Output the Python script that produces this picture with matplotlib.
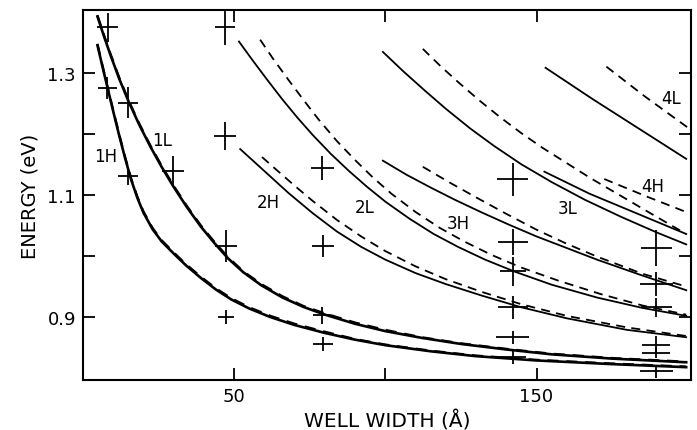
import matplotlib
matplotlib.use("Agg")
import matplotlib.pyplot as plt

# well width (angstrom) and energy (eV)
h1_w = [4.8, 6.5, 8.1, 10, 12, 14, 16, 18, 20, 23, 26, 30, 34, 39, 44, 49, 55, 62,
        70, 80, 90, 100, 115, 130, 150, 175, 199.5]
h1_e = [1.345, 1.309, 1.276, 1.237, 1.197, 1.159, 1.124, 1.095, 1.071, 1.044, 1.024,
        1.004, 0.985, 0.964, 0.945, 0.929, 0.914, 0.900, 0.887, 0.874, 0.863, 0.854,
        0.844, 0.836, 0.829, 0.823, 0.818]
h1_e_d = [1.347, 1.311, 1.278, 1.239, 1.199, 1.161, 1.126, 1.097, 1.073, 1.046, 1.026,
          1.006, 0.987, 0.966, 0.947, 0.931, 0.916, 0.902, 0.889, 0.876, 0.864, 0.855,
          0.845, 0.837, 0.830, 0.824, 0.819]

l1_w = [4.8, 7, 9.1, 12, 15, 18.5, 22.3, 26, 30, 34.5, 39, 43.5, 48, 53, 59, 66, 73,
        80, 90, 100, 112, 125, 140, 155, 175, 199.5]
l1_e = [1.392, 1.359, 1.329, 1.290, 1.254, 1.216, 1.179, 1.146, 1.113, 1.079, 1.048,
        1.021, 0.996, 0.9735, 0.952, 0.932, 0.9165, 0.904, 0.889, 0.877, 0.866, 0.856,
        0.847, 0.839, 0.832, 0.826]
l1_e_d = [1.394, 1.361, 1.331, 1.292, 1.256, 1.218, 1.181, 1.148, 1.115, 1.081, 1.050,
          1.023, 0.998, 0.975, 0.954, 0.934, 0.918, 0.906, 0.891, 0.879, 0.867, 0.857,
          0.848, 0.840, 0.833, 0.827]

h2_w = [52, 60, 68, 76, 84, 92, 100, 110, 120, 132, 145, 160, 180, 199.5]
h2_e = [1.175, 1.139, 1.103, 1.070, 1.040, 1.015, 0.994, 0.972, 0.954, 0.935, 0.916,
        0.898, 0.879, 0.867]
h2_w_d = [59.2, 64, 70, 76, 84, 92, 100, 110, 120, 132, 145, 160, 180, 199.5]
h2_e_d = [1.162, 1.141, 1.115, 1.090, 1.059, 1.032, 1.008, 0.983, 0.962, 0.941, 0.921,
          0.902, 0.883, 0.869]

l2_w = [51.6, 56, 61, 66, 71, 76, 82, 88, 94, 100, 108, 116, 124, 133, 143, 155, 170,
        185, 199.5]
l2_e = [1.351, 1.321, 1.288, 1.256, 1.226, 1.198, 1.167, 1.139, 1.113, 1.089, 1.061,
        1.036, 1.015, 0.994, 0.974, 0.953, 0.932, 0.915, 0.902]
l2_w_d = [58.6, 63, 68, 73, 78, 84, 90, 96, 102, 110, 118, 126, 135, 145, 157, 171,
          185, 199.5]
l2_e_d = [1.354, 1.322, 1.288, 1.255, 1.223, 1.188, 1.157, 1.128, 1.102, 1.072, 1.046,
          1.024, 1.002, 0.981, 0.960, 0.938, 0.919, 0.904]

h3_w = [99.2, 107, 115, 123, 132, 141, 150, 160, 170, 185, 199.5]
h3_e = [1.156, 1.133, 1.112, 1.092, 1.071, 1.051, 1.032, 1.013, 0.994, 0.968, 0.944]
h3_w_d = [112.4, 121, 130, 140, 150, 160, 170, 185, 199.5]
h3_e_d = [1.146, 1.121, 1.096, 1.069, 1.043, 1.020, 0.999, 0.971, 0.950]

l3_w = [99.2, 106, 113, 120, 128, 136, 145, 155, 166, 178, 190, 199.5]
l3_e = [1.334, 1.302, 1.271, 1.241, 1.209, 1.180, 1.150, 1.121, 1.092, 1.064, 1.038, 1.019]
l3_w_d = [112.4, 118, 124, 131, 138, 145, 152, 160, 168, 177, 188, 199.5]
l3_e_d = [1.339, 1.312, 1.285, 1.255, 1.227, 1.201, 1.177, 1.152, 1.127, 1.101, 1.069, 1.036]

h4_w = [152.6, 167.5, 183.0, 199.5]
h4_e = [1.138, 1.102, 1.070, 1.036]
h4_w_d = [172.4, 186.6, 200.5]
h4_e_d = [1.126, 1.097, 1.070]

l4_w = [153.0, 168.5, 184.0, 199.5]
l4_e = [1.308, 1.257, 1.208, 1.159]
l4_w_d = [173.1, 185.6, 199.8]
l4_e_d = [1.310, 1.262, 1.211]

# measured points with error bars
pt_w = [8.2, 8.1, 15.0, 15.0, 29.9, 47.0, 47.0, 47.3, 47.3,
        79.1, 79.4, 79.1, 79.4,
        142.1, 142.1, 142.1, 142.1, 142.1, 142.1,
        189.6, 189.6, 189.6, 189.6, 189.6, 189.6]
pt_e = [1.374, 1.275, 1.251, 1.131, 1.139, 1.374, 1.197, 1.016, 0.900,
        1.144, 1.016, 0.903, 0.856,
        1.126, 1.023, 0.975, 0.916, 0.867, 0.834,
        1.013, 0.954, 0.916, 0.854, 0.841, 0.811]
pt_werr = [3.5, 3.0, 3.3, 3.3, 3.6, 3.3, 3.6, 3.6, 2.8,
           3.8, 3.6, 3.0, 3.3,
           5.2, 5.0, 4.3, 5.0, 5.4, 4.3,
           5.2, 5.5, 5.2, 4.7, 4.7, 5.5]
pt_eerr = [0.023, 0.018, 0.025, 0.014, 0.025, 0.029, 0.023, 0.026, 0.011,
           0.019, 0.018, 0.014, 0.011,
           0.027, 0.021, 0.024, 0.019, 0.011, 0.011,
           0.029, 0.020, 0.016, 0.015, 0.008, 0.011]

labels = ["1H", "1L", "2H", "2L", "3H", "3L", "4H", "4L"]
label_w = [7.4, 26.2, 61.2, 93.2, 124.0, 160.2, 188.3, 194.5]
label_e = [1.164, 1.190, 1.089, 1.080, 1.054, 1.079, 1.115, 1.259]

fig = plt.figure(figsize=(6.97, 4.31), dpi=100)
ax = fig.add_axes([0.119, 0.116, 0.872, 0.859])

solid = [(h1_w, h1_e), (l1_w, l1_e), (h2_w, h2_e), (l2_w, l2_e),
         (h3_w, h3_e), (l3_w, l3_e), (h4_w, h4_e), (l4_w, l4_e)]
dashed = [(h1_w, h1_e_d), (l1_w, l1_e_d), (h2_w_d, h2_e_d), (l2_w_d, l2_e_d),
          (h3_w_d, h3_e_d), (l3_w_d, l3_e_d), (h4_w_d, h4_e_d), (l4_w_d, l4_e_d)]
for i, (w, e) in enumerate(solid):
    ax.plot(w, e, color="k", lw=1.9 if i < 2 else 1.3, solid_joinstyle="round")
for i, (w, e) in enumerate(dashed):
    ax.plot(w, e, color="k", lw=1.6 if i < 2 else 1.3, dashes=(5, 3.5))

ax.errorbar(pt_w, pt_e, xerr=pt_werr, yerr=pt_eerr, fmt="none",
            ecolor="k", elinewidth=1.3, capsize=0)

for t, w, e in zip(labels, label_w, label_e):
    ax.text(w, e, t, fontsize=12, ha="center", va="center")

ax.set_xlim(0, 201)
ax.set_ylim(0.797, 1.403)
ax.set_xticks([50, 100, 150])
ax.set_xticklabels(["50", "", "150"])
ax.set_yticks([0.9, 1.0, 1.1, 1.2, 1.3])
ax.set_yticklabels(["0.9", "", "1.1", "", "1.3"])
ax.tick_params(direction="in", length=8.5, width=1.3, labelsize=13,
               top=True, right=True, pad=5)
for s in ax.spines.values():
    s.set_linewidth(1.5)

ax.set_xlabel("WELL WIDTH (Å)", fontsize=14.5, labelpad=3)
ax.set_ylabel("ENERGY (eV)", fontsize=14, labelpad=6)

fig.savefig("out.png", dpi=100)
